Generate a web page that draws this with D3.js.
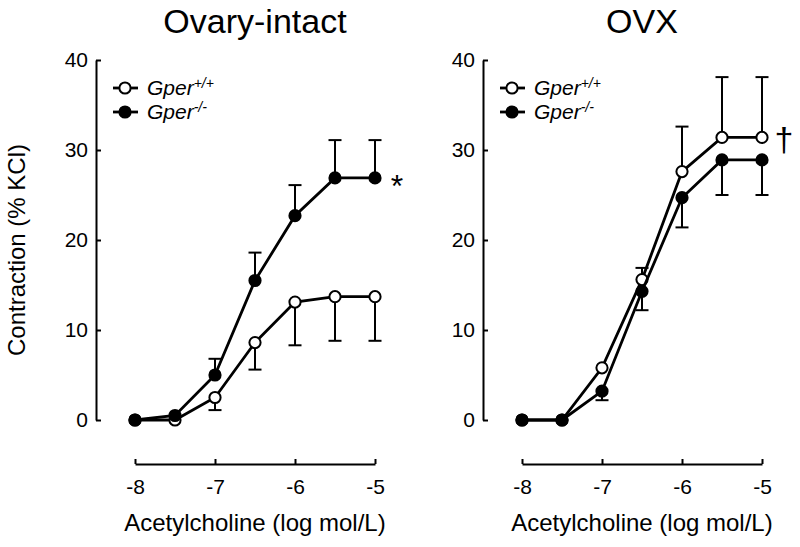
<!DOCTYPE html>
<html>
<head>
<meta charset="utf-8">
<script src="https://cdn.jsdelivr.net/npm/d3@7"></script>
<style>
body { margin:0; background:#fff; }
svg { font-family: "Liberation Sans", Arial, Helvetica, sans-serif; }
</style>
</head>
<body>
<div id="chart"></div>
<script>
// ===== data =====
var conc = [-8, -7.5, -7, -6.5, -6, -5.5, -5]
var xTicks = [-8, -7, -6, -5]
var yTicks = [0, 10, 20, 30, 40]

// Ovary-intact
var intactWT    = [0, 0, 2.5, 8.6, 13.1, 13.7, 13.7]
var intactWTerr = [0, 0, 1.4, 3.0, 4.8, 4.9, 4.9]      // drawn downward
var intactKO    = [0, 0.5, 5.0, 15.5, 22.7, 26.9, 26.9]
var intactKOerr = [0, 0, 1.8, 3.1, 3.4, 4.2, 4.2]      // drawn upward

// OVX
var ovxWT    = [0, 0, 5.8, 15.6, 27.6, 31.4, 31.4]
var ovxWTerr = [0, 0, 0, 1.3, 5.0, 6.7, 6.7]           // drawn upward
var ovxKO    = [0, 0, 3.2, 14.3, 24.7, 28.9, 28.9]
var ovxKOerr = [0, 0, 1.0, 2.1, 3.3, 3.9, 3.9]         // drawn downward

var svg = d3.select("#chart")
    .append("svg")
    .attr("width", 800)
    .attr("height", 547)

var yScale = d3.scaleLinear().domain([0, 40]).range([420, 60])

function series(g, xScale, vals, errs, dir, filled){
    var line = d3.line()
        .x(function(d,i){return xScale(conc[i])})
        .y(function(d){return yScale(d)})

    g.append("path")
        .datum(vals)
        .attr("d", line)
        .attr("fill", "none")
        .attr("stroke", "black")
        .attr("stroke-width", 2.8)

    // error bars (one side only)
    vals.forEach(function(v, i){
        if (errs[i] <= 0) return
        var x = xScale(conc[i])
        var yEnd = yScale(v + dir * errs[i])
        g.append("line")
            .attr("x1", x).attr("x2", x)
            .attr("y1", yScale(v)).attr("y2", yEnd)
            .attr("stroke", "black").attr("stroke-width", 2)
        g.append("line")
            .attr("x1", x - 6.5).attr("x2", x + 6.5)
            .attr("y1", yEnd).attr("y2", yEnd)
            .attr("stroke", "black").attr("stroke-width", 2)
    })

    g.selectAll(null)
        .data(vals)
        .enter()
        .append("circle")
        .attr("cx", function(d,i){return xScale(conc[i])})
        .attr("cy", function(d){return yScale(d)})
        .attr("r", 5.6)
        .attr("fill", filled ? "black" : "white")
        .attr("stroke", "black")
        .attr("stroke-width", 2)
}

function legendRow(g, x0, y, label, sup, filled){
    g.append("line")
        .attr("x1", x0).attr("x2", x0 + 25)
        .attr("y1", y).attr("y2", y)
        .attr("stroke", "black").attr("stroke-width", 2.8)
    g.append("circle")
        .attr("cx", x0 + 12).attr("cy", y).attr("r", 5.6)
        .attr("fill", filled ? "black" : "white")
        .attr("stroke", "black").attr("stroke-width", 2)
    var t = g.append("text")
        .attr("x", x0 + 34)
        .attr("y", y + 7)
        .attr("font-size", "21px")
        .attr("font-style", "italic")
    t.append("tspan").text(label)
    t.append("tspan").text(sup).attr("font-size", "14px").attr("dy", -7)
}

function panel(axisX, title, wt, wtErr, wtDir, ko, koErr, koDir, mark, markVal, markDy, markSize){
    var g = svg.append("g")
    var xScale = d3.scaleLinear().domain([-8, -5]).range([axisX + 39, axisX + 279])

    // Add title
    g.append("text")
        .text(title)
        .attr("x", (xScale(-8) + xScale(-5)) / 2)
        .attr("y", 33)
        .attr("text-anchor", "middle")
        .attr("font-size", "34px")
        .attr("fill", "black")

    // y axis (ticks point inward)
    g.append("g")
        .attr("transform", "translate(" + axisX + ",0)")
        .call(d3.axisLeft(yScale).tickValues(yTicks).tickFormat(function(d){return String(d)})
            .tickSizeInner(-5).tickSizeOuter(0).tickPadding(8))
    // x axis
    g.append("g")
        .attr("transform", "translate(0,464)")
        .call(d3.axisBottom(xScale).tickValues(xTicks).tickFormat(function(d){return String(d)})
            .tickSizeInner(-5).tickSizeOuter(0).tickPadding(15))

    g.selectAll(".domain").attr("stroke-width", 2)
    g.selectAll(".tick line").attr("stroke-width", 2)
    g.selectAll(".tick text")
        .attr("font-size", "21px")
        .attr("font-family", "Liberation Sans, Arial, sans-serif")

    // x axis label
    g.append("text")
        .text("Acetylcholine (log mol/L)")
        .attr("x", (xScale(-8) + xScale(-5)) / 2)
        .attr("y", 531)
        .attr("text-anchor", "middle")
        .attr("font-size", "24px")

    // series: wild type first, knockout on top
    series(g, xScale, wt, wtErr, wtDir, false)
    series(g, xScale, ko, koErr, koDir, true)

    // legend
    legendRow(g, axisX + 17, 88, "Gper", "+/+", false)
    legendRow(g, axisX + 17, 112, "Gper", "-/-", true)

    // significance mark
    g.append("text")
        .text(mark)
        .attr("x", xScale(-5) + 22)
        .attr("y", yScale(markVal) + markDy)
        .attr("text-anchor", "middle")
        .attr("font-size", markSize)
}

panel(96, "Ovary-intact", intactWT, intactWTerr, -1, intactKO, intactKOerr, 1, "*", intactKO[6], 19, "32px")
panel(483, "OVX", ovxWT, ovxWTerr, 1, ovxKO, ovxKOerr, -1, "\u2020", ovxWT[6], 14, "34px")

// shared y axis label
svg.append("text")
    .text("Contraction (% KCl)")
    .attr("transform", "translate(25,250) rotate(-90)")
    .attr("text-anchor", "middle")
    .attr("font-size", "24px")
</script>
</body>
</html>
